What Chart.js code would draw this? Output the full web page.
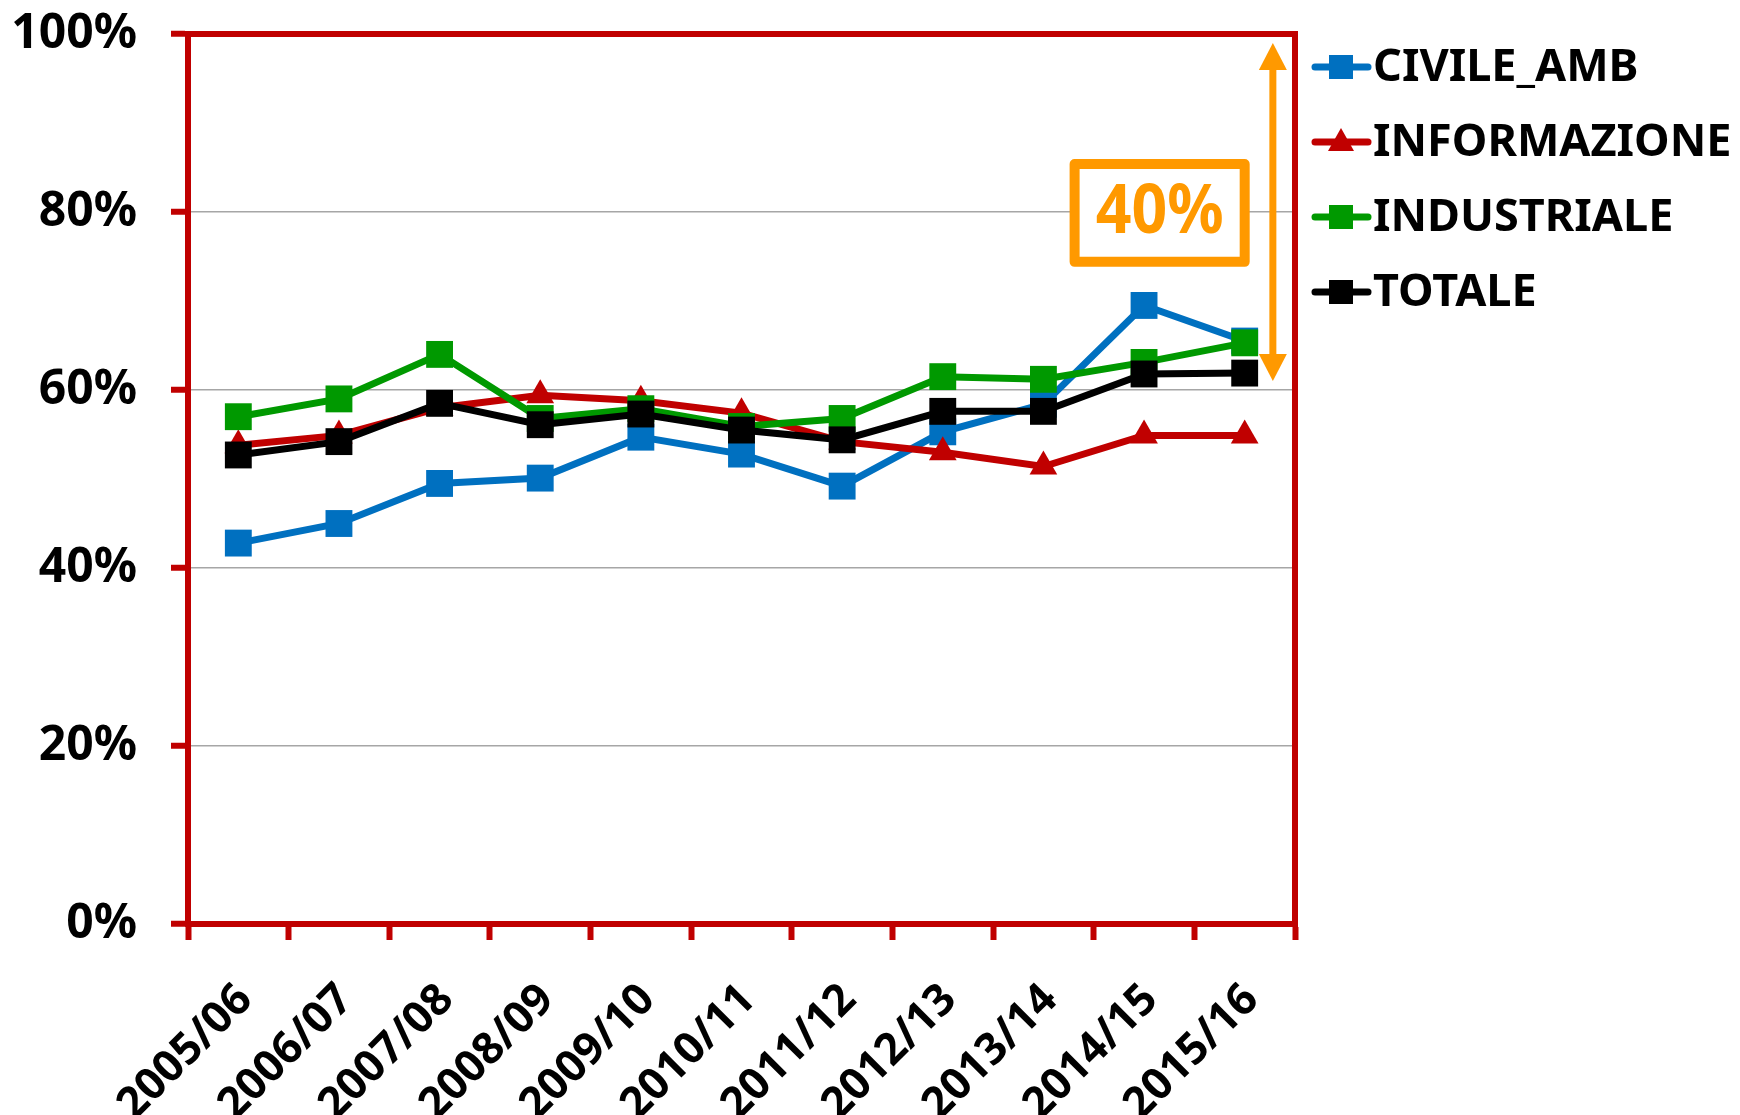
<!DOCTYPE html>
<html><head><meta charset="utf-8">
<script src="https://cdn.jsdelivr.net/npm/chart.js@4.4.1/dist/chart.umd.min.js"></script>
<style>html,body{margin:0;padding:0;background:#fff;overflow:hidden}#wrap{width:1740px;height:1115px}</style>
</head><body><div id="wrap"><canvas id="c" width="1740" height="1115"></canvas></div>
<script>
const categories = ['2005/06','2006/07','2007/08','2008/09','2009/10','2010/11','2011/12','2012/13','2013/14','2014/15','2015/16'];
const civileAmb    = [42.8, 45.0, 49.5, 50.1, 54.7, 52.8, 49.2, 55.3, 58.4, 69.5, 65.5];
const informazione = [53.8, 54.9, 58.0, 59.4, 58.8, 57.4, 54.2, 53.0, 51.4, 54.9, 54.9];
const industriale  = [57.0, 59.0, 64.0, 56.8, 57.9, 55.9, 56.8, 61.5, 61.2, 63.1, 65.3];
const totale       = [52.7, 54.2, 58.5, 56.1, 57.3, 55.5, 54.4, 57.6, 57.6, 61.8, 61.9];
const seriesNames  = ['CIVILE_AMB', 'INFORMAZIONE', 'INDUSTRIALE', 'TOTALE'];
const yTicks       = [0, 20, 40, 60, 80, 100];
const gapLabel     = '40%';
const gapRange     = [99, 61];     // value span marked by the double arrow
const gapArrowAt   = 10.28;        // category position of the arrow
const gapBoxX      = [8.31, 10.0]; // category span of the label box
const gapBoxY      = [74.4, 85.4]; // value span of the label box

const colors = ['#0070C0', '#C00000', '#009900', '#000000'];
const styles = ['rect', 'triangle', 'rect', 'rect'];
const series = [civileAmb, informazione, industriale, totale];
const FONT = 'Noto Sans';

const framePlugin = {
  id: 'frame',
  beforeDatasetsDraw(chart) {
    const {ctx, chartArea: a} = chart;
    ctx.save();
    ctx.strokeStyle = '#C00000';
    ctx.lineWidth = 6;
    ctx.strokeRect(a.left, a.top, a.right - a.left, a.bottom - a.top);
    ctx.restore();
  }
};

const annotPlugin = {
  id: 'annot',
  afterDatasetsDraw(chart) {
    const {ctx} = chart;
    const xs = chart.scales.x, ys = chart.scales.y;
    const orange = '#FF9900';
    ctx.save();
    const ax = xs.getPixelForValue(gapArrowAt);
    const y1 = ys.getPixelForValue(gapRange[0]);
    const y2 = ys.getPixelForValue(gapRange[1]);
    const hh = 27, hw = 14;
    ctx.strokeStyle = orange; ctx.fillStyle = orange; ctx.lineWidth = 7;
    ctx.beginPath(); ctx.moveTo(ax, y1 + hh - 2); ctx.lineTo(ax, y2 - hh + 2); ctx.stroke();
    ctx.beginPath(); ctx.moveTo(ax, y1); ctx.lineTo(ax - hw, y1 + hh); ctx.lineTo(ax + hw, y1 + hh); ctx.closePath(); ctx.fill();
    ctx.beginPath(); ctx.moveTo(ax, y2); ctx.lineTo(ax - hw, y2 - hh); ctx.lineTo(ax + hw, y2 - hh); ctx.closePath(); ctx.fill();
    const bx1 = xs.getPixelForValue(gapBoxX[0]), bx2 = xs.getPixelForValue(gapBoxX[1]);
    const by1 = ys.getPixelForValue(gapBoxY[1]), by2 = ys.getPixelForValue(gapBoxY[0]);
    ctx.lineWidth = 10; ctx.lineJoin = 'round';
    ctx.fillStyle = '#fff';
    ctx.fillRect(bx1, by1, bx2 - bx1, by2 - by1);
    ctx.strokeRect(bx1, by1, bx2 - bx1, by2 - by1);
    ctx.fillStyle = orange;
    ctx.font = 'bold 68px ' + FONT;
    ctx.textAlign = 'center'; ctx.textBaseline = 'middle';
    ctx.translate((bx1 + bx2) / 2, (by1 + by2) / 2 + 1);
    ctx.scale(0.92, 1);
    ctx.fillText(gapLabel, 0, 0);
    ctx.restore();
  }
};

const legendPlugin = {
  id: 'sideLegend',
  afterDraw(chart) {
    const {ctx} = chart;
    ctx.save();
    chart.data.datasets.forEach((ds, i) => {
      const yy = 67 + i * 75;
      const c = ds.borderColor;
      ctx.strokeStyle = c; ctx.fillStyle = c; ctx.lineWidth = 7; ctx.lineCap = 'round';
      ctx.beginPath(); ctx.moveTo(1315, yy); ctx.lineTo(1368, yy); ctx.stroke();
      const mx = 1341;
      if (ds.pointStyle === 'triangle') {
        ctx.beginPath(); ctx.moveTo(mx, yy - 14); ctx.lineTo(mx - 13, yy + 9); ctx.lineTo(mx + 13, yy + 9); ctx.closePath(); ctx.fill();
      } else {
        ctx.fillRect(mx - 12, yy - 12, 24, 24);
      }
      ctx.fillStyle = '#000';
      ctx.font = 'bold 45px ' + FONT;
      ctx.textAlign = 'left'; ctx.textBaseline = 'middle';
      ctx.fillText(ds.label, 1373, yy + 1);
    });
    ctx.restore();
  }
};

new Chart(document.getElementById('c'), {
  type: 'line',
  data: {
    labels: categories,
    datasets: series.map((d, i) => ({
      label: seriesNames[i],
      data: d,
      borderColor: colors[i],
      backgroundColor: colors[i],
      pointBackgroundColor: colors[i],
      pointBorderWidth: 0,
      pointStyle: styles[i],
      pointRadius: styles[i] === 'triangle' ? 16 : 19,
      borderWidth: 7,
      tension: 0,
      fill: false,
      order: 3 - i
    }))
  },
  options: {
    responsive: false,
    animation: false,
    devicePixelRatio: 1,
    layout: {padding: {top: 34, right: 445, left: 0, bottom: 0}},
    plugins: {legend: {display: false}, tooltip: {enabled: false}},
    scales: {
      x: {
        offset: true,
        grid: {offset: true, drawOnChartArea: false, drawTicks: true, tickLength: 16, tickColor: '#C00000', tickWidth: 6},
        border: {display: true, color: '#C00000', width: 6},
        ticks: {font: {family: FONT, weight: 'bold', size: 44}, color: '#000', maxRotation: 45, minRotation: 45, padding: 34, labelOffset: 7, autoSkip: false},
        afterFit(s) { s.height = 191; s.paddingLeft = 0; s.paddingRight = 0; }
      },
      y: {
        min: 0, max: 100,
        afterBuildTicks(s) { s.ticks = yTicks.map(v => ({value: v})); },
        ticks: {callback: v => v + '%', font: {family: FONT, weight: 'bold', size: 48, lineHeight: 1}, color: '#000', padding: 34},
        grid: {color: '#A6A6A6', lineWidth: 1.5, tickLength: 17, tickColor: '#C00000', tickWidth: 6},
        border: {color: '#C00000', width: 6},
        afterFit(s) { s.width = 188; s.paddingTop = 0; s.paddingBottom = 0; }
      }
    }
  },
  plugins: [framePlugin, annotPlugin, legendPlugin]
});
</script></body></html>
